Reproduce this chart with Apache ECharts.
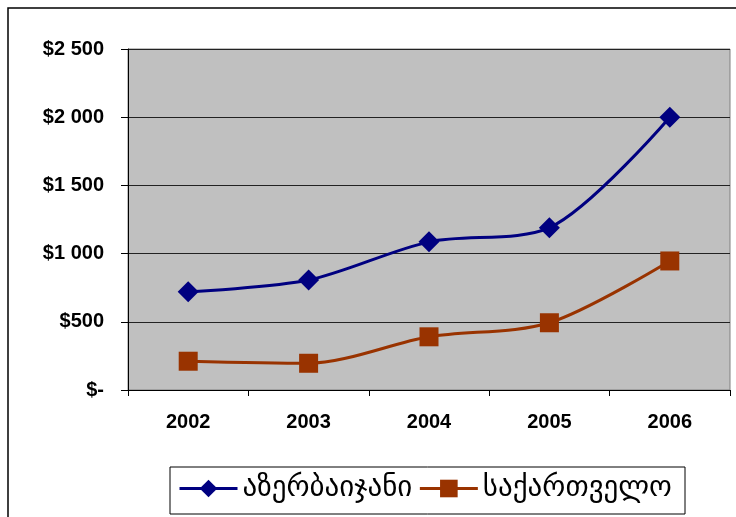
<!DOCTYPE html>
<html>
<head>
<meta charset="utf-8">
<script src="https://cdn.jsdelivr.net/npm/echarts@6/dist/echarts.min.js"></script>
<style>
  html, body { margin: 0; padding: 0; background: #ffffff; }
  #chart { width: 736px; height: 517px; }
</style>
</head>
<body>
<div id="chart"></div>
<script>
const years = ['2002', '2003', '2004', '2005', '2006'];
const azerbaijan = [720, 806, 1086, 1190, 2000];
const georgia = [211, 196, 390, 493, 946];
const seriesNames = ['აზერბაიჯანი', 'საქართველო'];

function money(v) {
  if (v === 0) return '$-';
  return '$' + String(v).replace(/\B(?=(\d{3})+(?!\d))/g, ' ');
}

const chart = echarts.init(document.getElementById('chart'));

const option = {
  animation: false,
  backgroundColor: '#ffffff',
  graphic: [
    {
      type: 'rect',
      shape: { x: 8, y: 8, width: 760, height: 540 },
      style: { fill: 'none', stroke: '#000000', lineWidth: 1.5 },
      z: 100
    },
    {
      // legend box
      type: 'rect',
      shape: { x: 170, y: 467, width: 515, height: 47 },
      style: { fill: '#ffffff', stroke: '#000000', lineWidth: 1 },
      z: 0
    }
  ],
  grid: {
    left: 128,
    top: 49,
    right: 6,
    bottom: 127,
    show: true,
    backgroundColor: '#c0c0c0',
    borderColor: '#808080',
    borderWidth: 1
  },
  legend: {
    data: seriesNames,
    left: 178,
    top: 474,
    padding: 0,
    itemGap: 6,
    itemWidth: 58,
    itemHeight: 22,
    lineStyle: { width: 3 },
    textStyle: { fontFamily: 'DejaVu Sans', fontSize: 29, color: '#000000' }
  },
  xAxis: {
    type: 'category',
    data: years,
    boundaryGap: true,
    axisLine: { lineStyle: { color: '#000000', width: 1 } },
    axisTick: { show: true, length: 6, lineStyle: { color: '#000000' } },
    axisLabel: {
      margin: 22,
      fontFamily: 'Liberation Sans',
      fontWeight: 'bold',
      fontSize: 20,
      color: '#000000'
    }
  },
  yAxis: {
    type: 'value',
    min: 0,
    max: 2500,
    interval: 500,
    axisLine: { show: true, lineStyle: { color: '#000000', width: 1 } },
    axisTick: { show: true, length: 7, lineStyle: { color: '#000000' } },
    splitLine: { lineStyle: { color: '#222222', width: 1 } },
    axisLabel: {
      margin: 24,
      formatter: money,
      fontFamily: 'Liberation Sans',
      fontWeight: 'bold',
      fontSize: 20,
      color: '#000000'
    }
  },
  series: [
    {
      name: seriesNames[0],
      type: 'line',
      data: azerbaijan,
      smooth: 0.3,
      symbol: 'diamond',
      symbolSize: 21,
      color: '#000080',
      lineStyle: { width: 3, color: '#000080' },
      itemStyle: { color: '#000080' }
    },
    {
      name: seriesNames[1],
      type: 'line',
      data: georgia,
      smooth: 0.3,
      symbol: 'rect',
      symbolSize: 19,
      color: '#993300',
      lineStyle: { width: 3, color: '#993300' },
      itemStyle: { color: '#993300' }
    }
  ]
};

chart.setOption(option);
</script>
</body>
</html>
